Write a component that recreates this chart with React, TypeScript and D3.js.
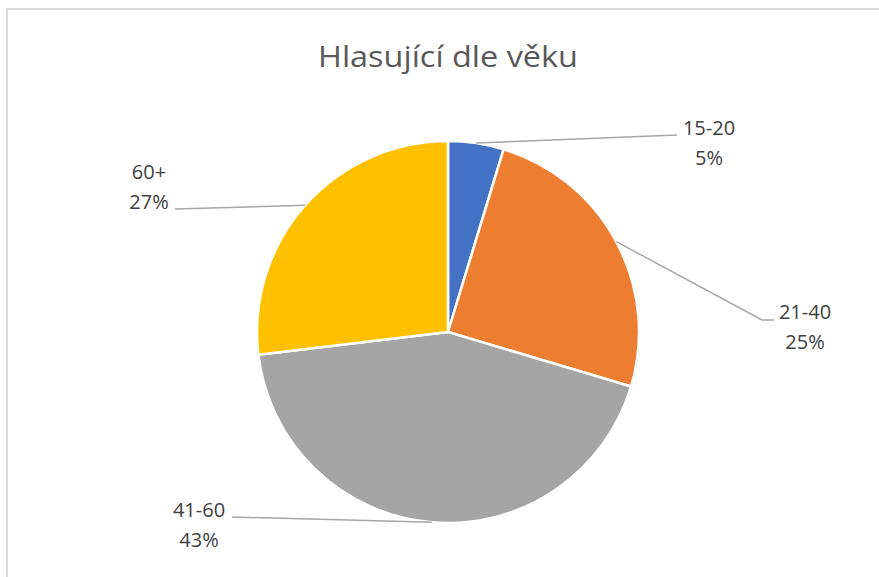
import React from "react";
import * as d3 from "d3";

const categories = ["15-20", "21-40", "41-60", "60+"];
const values = [4.7, 24.9, 43.5, 26.9];
const percentLabels = ["5%", "25%", "43%", "27%"];
const colors = ["#4472C4", "#ED7D31", "#A5A5A5", "#FFC000"];
const title = "Hlasující dle věku";

// layout of the data labels relative to pie centre
const labelLayout = [
  { tx: 261, ty: -189, path: [[229, -197]] },
  { tx: 357, ty: -5, path: [[314, -12], [326, -12]] },
  { tx: -249, ty: 193, path: [[-216, 185]] },
  { tx: -299, ty: -145, path: [[-273, -123]] },
];

export default function App() {
  const W = 879, H = 577;
  const cx = 448, cy = 332, r = 191;
  const pie = d3.pie<number>().sort(null).value((d) => d)(values);
  const arc = d3.arc<d3.PieArcDatum<number>>().innerRadius(0).outerRadius(r);
  const font = "'Open Sans', sans-serif";
  return (
    <svg width={W} height={H} style={{ position: "absolute", left: 0, top: 0 }}>
      <rect x={0} y={0} width={W} height={H} fill="#fff" />
      <rect x={7} y={9} width={W + 20} height={H + 20} fill="none" stroke="#d9d9d9" strokeWidth={2} />
      <text x={cx} y={67} textAnchor="middle" fontFamily={font} fontSize={29} fontWeight={400} fill="#595959" textLength={260} lengthAdjust="spacingAndGlyphs">
        {title}
      </text>
      <g transform={`translate(${cx},${cy})`}>
        {pie.map((p, i) => (
          <path key={i} d={arc(p) || ""} fill={colors[i]} stroke="#fff" strokeWidth={2.5} strokeLinejoin="round" />
        ))}
        {pie.map((p, i) => {
          const mid = (p.startAngle + p.endAngle) / 2;
          const sx = r * Math.sin(mid), sy = -r * Math.cos(mid);
          const L = labelLayout[i];
          const pts = [[sx, sy], ...L.path];
          return (
            <g key={"l" + i}>
              <polyline points={pts.map((q) => q.join(",")).join(" ")} fill="none" stroke="#A6A6A6" strokeWidth={1.5} />
              <text x={L.tx} y={L.ty - 8} textAnchor="middle" fontFamily={font} fontSize={20} fill="#404040">
                {categories[i]}
              </text>
              <text x={L.tx} y={L.ty + 22} textAnchor="middle" fontFamily={font} fontSize={20} fill="#404040">
                {percentLabels[i]}
              </text>
            </g>
          );
        })}
      </g>
    </svg>
  );
}
